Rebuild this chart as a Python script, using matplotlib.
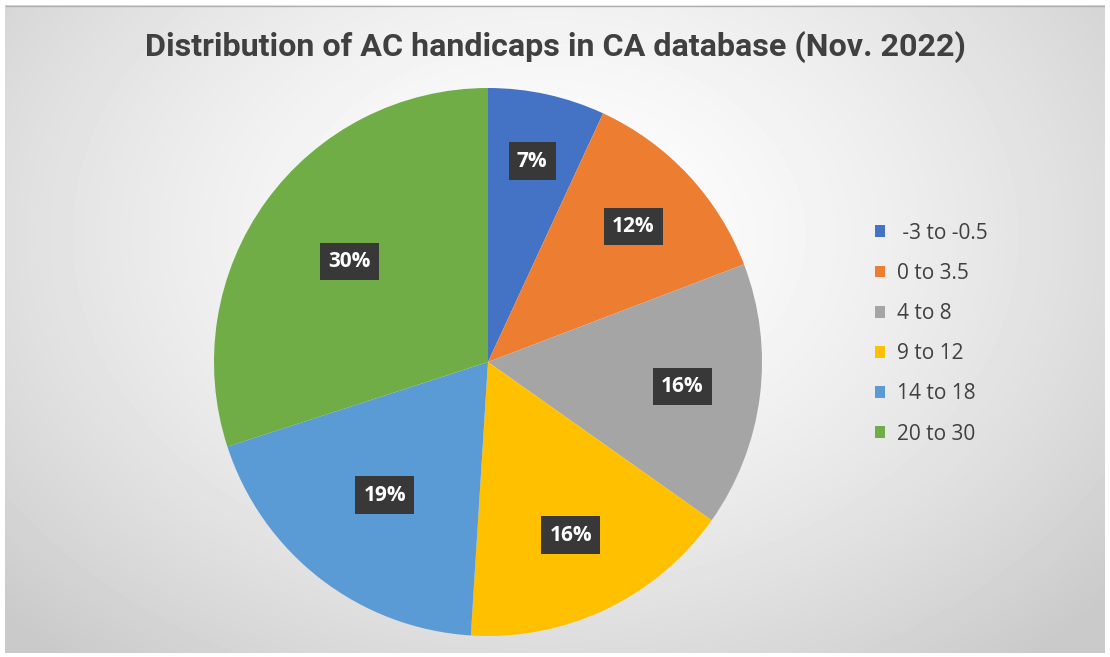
import numpy as np
import matplotlib
matplotlib.use('Agg')
import matplotlib.pyplot as plt
from matplotlib import font_manager

# data (percent shares)
categories = [' -3 to -0.5', '0 to 3.5', '4 to 8', '9 to 12', '14 to 18', '20 to 30']
shares = [6.9, 12.3, 15.6, 16.2, 19.0, 30.0]
label_dist = [0.75, 0.725, 0.715, 0.70, 0.615, 0.625]
colors = ['#4472C4', '#ED7D31', '#A5A5A5', '#FFC000', '#5B9BD5', '#70AD47']
title = 'Distribution of AC handicaps in CA database (Nov. 2022)'

names = {f.name for f in font_manager.fontManager.ttflist}
title_font = 'Liberation Sans Narrow' if 'Liberation Sans Narrow' in names else 'Roboto'

W, H = 1110, 657
fig = plt.figure(figsize=(W / 100, H / 100), dpi=100)
fig.patch.set_facecolor('white')

# radial gradient background
bg = fig.add_axes([5 / W, 4 / H, 1100 / W, 648 / H])
yy, xx = np.mgrid[0:648, 0:1100]
d = np.sqrt(((xx - 540) / 650.0) ** 2 + ((yy - 230) / 480.0) ** 2)
shade = np.clip(1.0 - 0.17 * d ** 1.5, 0.79, 1.0)
bg.imshow(shade, cmap='gray', vmin=0, vmax=1, aspect='auto', interpolation='bilinear')
bg.plot([0, 1099], [0.5, 0.5], color='#b0b0b0', lw=1)
bg.set_xlim(-0.5, 1099.5)
bg.set_ylim(647.5, -0.5)
bg.set_axis_off()

cx, cy, r = 488, 362, 274
ax = fig.add_axes([(cx - r) / W, (H - cy - r) / H, 2 * r / W, 2 * r / H])

wedges, texts, autotexts = ax.pie(shares, colors=colors, startangle=90, counterclock=False,
                                  autopct='%.0f%%', pctdistance=0.7, radius=1,
                                  wedgeprops=dict(linewidth=0))
ax.set_xlim(-1, 1)
ax.set_ylim(-1, 1)
ax.set_axis_off()

for w, t, dist in zip(wedges, autotexts, label_dist):
    ang = np.deg2rad((w.theta1 + w.theta2) / 2)
    t.set_position((dist * np.cos(ang), dist * np.sin(ang)))
    t.set_color('white')
    t.set_fontsize(15)
    t.set_fontweight('bold')
    t.set_fontfamily('Open Sans')
    t.set_bbox(dict(boxstyle='square,pad=0.4', facecolor='#383838', edgecolor='none'))

tt = fig.text(0.5, 1 - 47 / H, title, ha='center', va='center', fontsize=24,
              fontweight='bold', color='#404040', family=title_font)
fig.canvas.draw()
wpx = tt.get_window_extent().width
tt.set_fontsize(24 * 822 / wpx)

leg = fig.legend(wedges, categories, loc='upper left', bbox_to_anchor=(856 / W, 1 - 204 / H),
                 frameon=False, fontsize=15, labelspacing=0.92, handlelength=0.5,
                 handleheight=0.5, handletextpad=0.55, labelcolor='#404040')
for txt in leg.get_texts():
    txt.set_family('Open Sans')

fig.savefig('out.png', dpi=100)
